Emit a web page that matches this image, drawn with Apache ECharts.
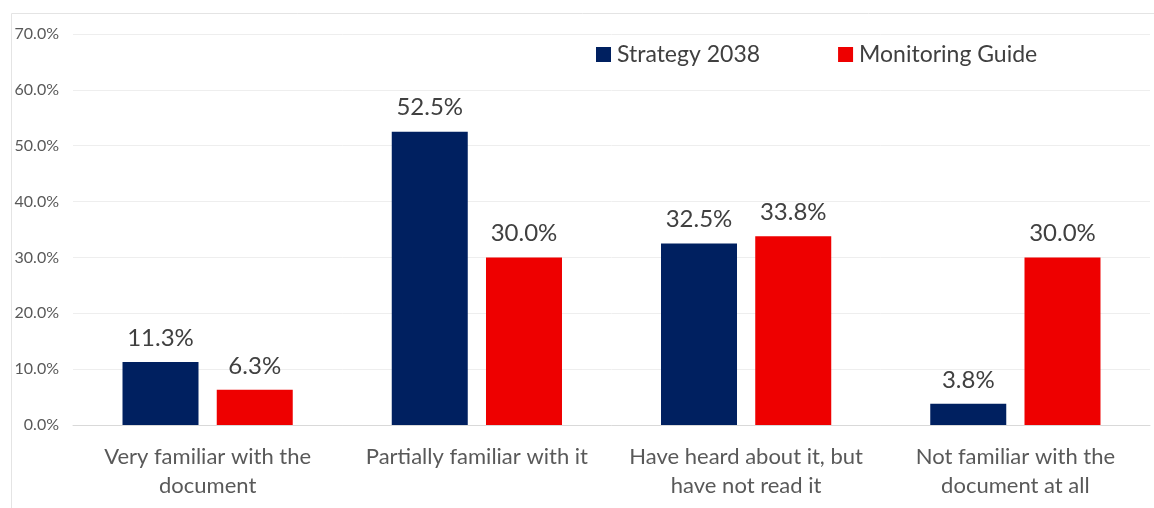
<!DOCTYPE html>
<html>
<head>
<meta charset="utf-8">
<script src="https://cdn.jsdelivr.net/npm/echarts@6/dist/echarts.min.js"></script>
<style>
html,body{margin:0;padding:0;background:#fff;}
#chart{width:1154px;height:508px;}
</style>
</head>
<body>
<div id="chart"></div>
<script>
const categories = [
  "Very familiar with the\ndocument",
  "Partially familiar with it",
  "Have heard about it, but\nhave not read it",
  "Not familiar with the\ndocument at all"
];
const seriesNames = ["Strategy 2038", "Monitoring Guide"];
const strategy2038 = [11.3, 52.5, 32.5, 3.8];
const monitoringGuide = [6.3, 30.0, 33.8, 30.0];
const yTicks = { min: 0, max: 70, interval: 10 };

const FONT = "Lato";
const chart = echarts.init(document.getElementById('chart'), null, {renderer: 'canvas'});
const labelCfg = {
  show: true,
  position: 'top',
  distance: 12,
  fontFamily: FONT,
  fontSize: 24,
  color: '#404040',
  formatter: p => p.value.toFixed(1) + '%'
};
chart.setOption({
  animation: false,
  backgroundColor: '#ffffff',
  graphic: [
    { type: 'line', shape: { x1: 11.5, y1: 13.5, x2: 11.5, y2: 508 }, style: { stroke: '#e4e4e4', lineWidth: 1 } },
    { type: 'line', shape: { x1: 11.5, y1: 13.5, x2: 1154, y2: 13.5 }, style: { stroke: '#e4e4e4', lineWidth: 1 } }
  ],
  legend: {
    left: 596,
    top: 43,
    padding: 0,
    itemWidth: 15,
    itemHeight: 15,
    itemGap: 78,
    icon: 'rect',
    textStyle: { fontFamily: FONT, fontSize: 23, color: '#404040', padding: [0, 0, 0, 1] },
    data: seriesNames
  },
  grid: { left: 73, right: 4, top: 34, bottom: 83, containLabel: false },
  xAxis: {
    type: 'category',
    data: categories,
    axisTick: { show: false },
    axisLine: { lineStyle: { color: '#d9d9d9', width: 1 } },
    axisLabel: {
      fontFamily: FONT, fontSize: 22, color: '#595959',
      lineHeight: 29, margin: 17, interval: 0
    }
  },
  yAxis: {
    type: 'value',
    min: yTicks.min, max: yTicks.max, interval: yTicks.interval,
    axisLine: { show: false },
    axisTick: { show: false },
    splitLine: { lineStyle: { color: '#eeeeee', width: 1 } },
    axisLabel: {
      fontFamily: FONT, fontSize: 16, color: '#595959', margin: 14,
      formatter: v => v.toFixed(1) + '%'
    }
  },
  series: [
    { name: seriesNames[0], type: 'bar', data: strategy2038, barWidth: 76, barGap: '24%',
      itemStyle: { color: '#002060' }, label: labelCfg },
    { name: seriesNames[1], type: 'bar', data: monitoringGuide, barWidth: 76,
      itemStyle: { color: '#EE0000' }, label: labelCfg }
  ]
});
</script>
</body>
</html>
